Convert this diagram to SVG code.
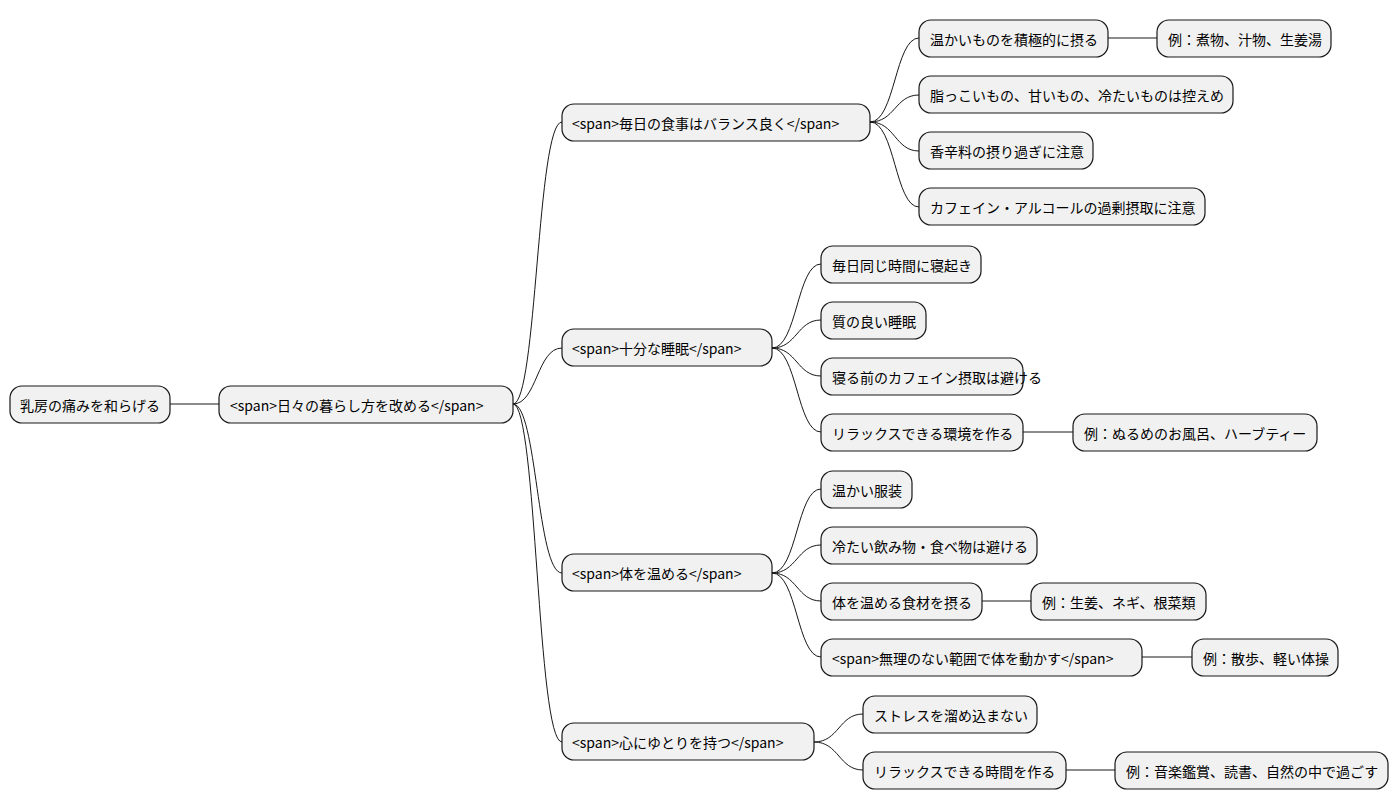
<svg xmlns="http://www.w3.org/2000/svg" width="1398" height="809" viewBox="0 0 1398 809">
<style>
rect{fill:#f1f1f1;stroke:#181818;stroke-width:1.2}
text{font-family:"Noto Sans CJK JP","Liberation Sans",sans-serif;font-size:14px;fill:#000;dominant-baseline:central}
#connectors path{fill:none;stroke:#181818;stroke-width:1}
</style>
<rect x="0" y="0" width="1398" height="809" style="fill:#fff;stroke:none"/>
<g id="connectors">
<path d="M170,404 L219,404"/>
<path d="M513,404 C537,404 537,122 562,122"/>
<path d="M513,404 C537,404 537,348 562,348"/>
<path d="M513,404 C537,404 537,573 562,573"/>
<path d="M513,404 C537,404 537,742 562,742"/>
<path d="M870,122 C895,122 895,38 919,38"/>
<path d="M870,122 C895,122 895,95 919,95"/>
<path d="M870,122 C895,122 895,151 919,151"/>
<path d="M870,122 C895,122 895,207 919,207"/>
<path d="M1108,38 L1157,38"/>
<path d="M772,348 C797,348 797,264 821,264"/>
<path d="M772,348 C797,348 797,320 821,320"/>
<path d="M772,348 C797,348 797,376 821,376"/>
<path d="M772,348 C797,348 797,432 821,432"/>
<path d="M1023,432 L1073,432"/>
<path d="M772,573 C797,573 797,489 821,489"/>
<path d="M772,573 C797,573 797,545 821,545"/>
<path d="M772,573 C797,573 797,601 821,601"/>
<path d="M772,573 C797,573 797,657 821,657"/>
<path d="M982,601 L1031,601"/>
<path d="M1142,657 L1192,657"/>
<path d="M814,742 C839,742 839,714 863,714"/>
<path d="M814,742 C839,742 839,770 863,770"/>
<path d="M1066,770 L1115,770"/>
</g>
<g id="root"><rect x="10" y="386" width="160" height="37" rx="12"/><text x="20" y="404.5">乳房の痛みを和らげる</text></g>
<g id="n1"><rect x="219" y="386" width="294" height="37" rx="12"/><text x="230" y="404.5">&lt;span&gt;日々の暮らし方を改める&lt;/span&gt;</text></g>
<g id="food"><rect x="562" y="104" width="308" height="37" rx="12"/><text x="572" y="122.5">&lt;span&gt;毎日の食事はバランス良く&lt;/span&gt;</text></g>
<g id="sleep"><rect x="562" y="329" width="210" height="37" rx="12"/><text x="572" y="347.5">&lt;span&gt;十分な睡眠&lt;/span&gt;</text></g>
<g id="warm"><rect x="562" y="554" width="210" height="37" rx="12"/><text x="572" y="572.5">&lt;span&gt;体を温める&lt;/span&gt;</text></g>
<g id="mind"><rect x="562" y="723" width="252" height="37" rx="12"/><text x="572" y="741.5">&lt;span&gt;心にゆとりを持つ&lt;/span&gt;</text></g>
<g id="f1"><rect x="919" y="20" width="189" height="37" rx="12"/><text x="930" y="38.5">温かいものを積極的に摂る</text></g>
<g id="f1a"><rect x="1157" y="20" width="174" height="37" rx="12"/><text x="1168" y="38.5">例：煮物、汁物、生姜湯</text></g>
<g id="f2"><rect x="919" y="76" width="314" height="37" rx="12"/><text x="930" y="94.5">脂っこいもの、甘いもの、冷たいものは控えめ</text></g>
<g id="f3"><rect x="919" y="132" width="174" height="37" rx="12"/><text x="930" y="150.5">香辛料の摂り過ぎに注意</text></g>
<g id="f4"><rect x="919" y="188" width="286" height="37" rx="12"/><text x="930" y="206.5">カフェイン・アルコールの過剰摂取に注意</text></g>
<g id="s1"><rect x="821" y="246" width="160" height="37" rx="12"/><text x="832" y="264.5">毎日同じ時間に寝起き</text></g>
<g id="s2"><rect x="821" y="302" width="105" height="37" rx="12"/><text x="832" y="320.5">質の良い睡眠</text></g>
<g id="s3"><rect x="821" y="358" width="202" height="37" rx="12"/><text x="832" y="376.5">寝る前のカフェイン摂取は避ける</text></g>
<g id="s4"><rect x="821" y="414" width="202" height="37" rx="12"/><text x="832" y="432.5">リラックスできる環境を作る</text></g>
<g id="s4a"><rect x="1073" y="414" width="244" height="37" rx="12"/><text x="1084" y="432.5">例：ぬるめのお風呂、ハーブティー</text></g>
<g id="w1"><rect x="821" y="471" width="91" height="37" rx="12"/><text x="832" y="489.5">温かい服装</text></g>
<g id="w2"><rect x="821" y="527" width="216" height="37" rx="12"/><text x="832" y="545.5">冷たい飲み物・食べ物は避ける</text></g>
<g id="w3"><rect x="821" y="583" width="161" height="37" rx="12"/><text x="832" y="601.5">体を温める食材を摂る</text></g>
<g id="w3a"><rect x="1031" y="583" width="175" height="37" rx="12"/><text x="1042" y="601.5">例：生姜、ネギ、根菜類</text></g>
<g id="w4"><rect x="821" y="639" width="321" height="37" rx="12"/><text x="832" y="657.5">&lt;span&gt;無理のない範囲で体を動かす&lt;/span&gt;</text></g>
<g id="w4a"><rect x="1192" y="639" width="146" height="37" rx="12"/><text x="1203" y="657.5">例：散歩、軽い体操</text></g>
<g id="m1"><rect x="863" y="696" width="174" height="37" rx="12"/><text x="874" y="714.5">ストレスを溜め込まない</text></g>
<g id="m2"><rect x="863" y="752" width="203" height="37" rx="12"/><text x="874" y="770.5">リラックスできる時間を作る</text></g>
<g id="m2a"><rect x="1115" y="752" width="273" height="37" rx="12"/><text x="1126" y="770.5">例：音楽鑑賞、読書、自然の中で過ごす</text></g>
</svg>
